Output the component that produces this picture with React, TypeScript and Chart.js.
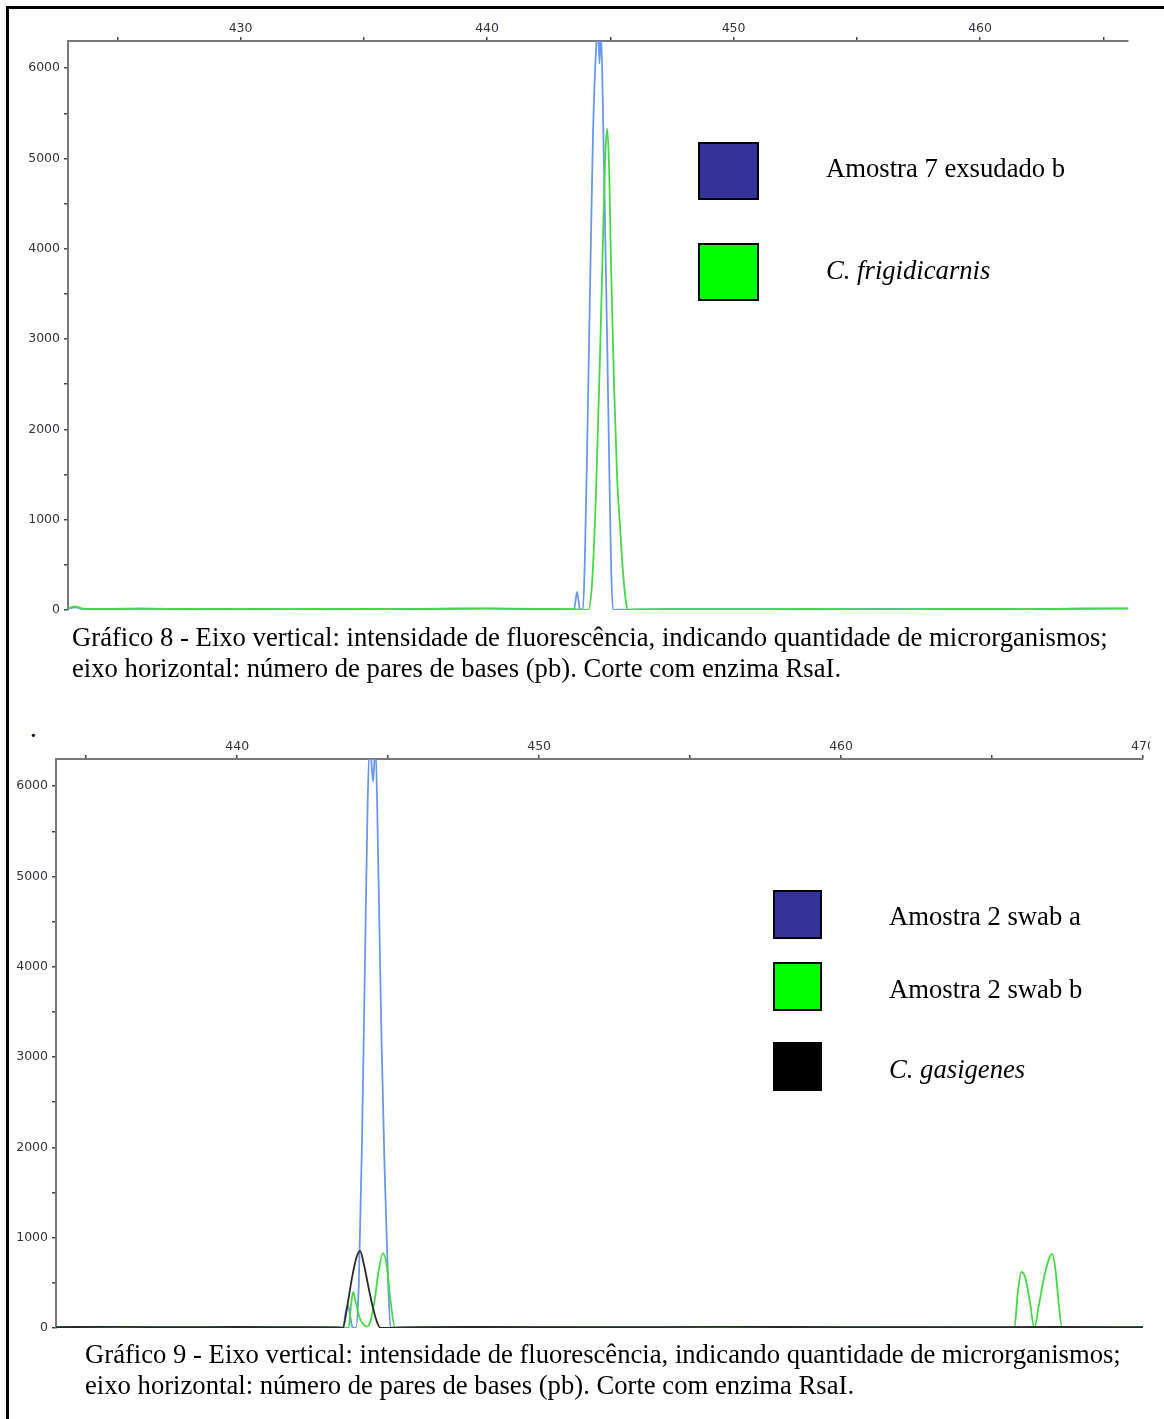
import React, { useEffect, useRef } from "react";
import { Chart, registerables } from "chart.js";

Chart.register(...registerables);

// ---------- Gráfico 8 data ----------
const G8_X_TICKS = [425, 430, 435, 440, 445, 450, 455, 460, 465];
const G8_Y_TICKS = [0, 500, 1000, 1500, 2000, 2500, 3000, 3500, 4000, 4500, 5000, 5500, 6000];

const G8_BLUE_X = [423.0, 423.3, 423.6, 424.5, 426, 428, 430, 432, 434, 436, 438, 440, 442, 443.4, 443.53, 443.65, 443.77, 443.89, 443.97, 444.06, 444.14, 444.22, 444.30, 444.42, 444.50, 444.56, 444.62, 444.71, 444.79, 444.87, 444.95, 445.03, 445.11, 445.5, 447, 450, 453, 456, 459, 462, 464, 466];
const G8_BLUE_Y = [15, 30, 12, 10, 14, 9, 12, 8, 11, 9, 13, 16, 10, 8, 10, 200, 10, 5, 600, 1800, 3000, 4200, 5300, 6200, 6500, 6050, 6400, 5400, 4200, 3000, 1700, 500, 0, 5, 8, 10, 7, 12, 9, 10, 14, 16];

const G8_GREEN_X = [423.0, 423.3, 423.6, 424.5, 426, 428, 430, 432, 434, 436, 438, 440, 442, 443.5, 444.10, 444.26, 444.42, 444.58, 444.71, 444.79, 444.87, 444.95, 445.03, 445.15, 445.27, 445.40, 445.52, 445.64, 445.72, 446, 448, 450, 453, 456, 459, 462, 464, 466];
const G8_GREEN_Y = [18, 40, 15, 12, 16, 11, 13, 10, 12, 10, 14, 17, 12, 10, 0, 300, 1300, 2800, 4200, 5000, 5330, 4900, 3800, 2500, 1500, 900, 400, 80, 0, 8, 10, 9, 12, 8, 13, 10, 15, 18];

// ---------- Gráfico 9 data ----------
const G9_X_TICKS = [435, 440, 445, 450, 455, 460, 465, 470];
const G9_Y_TICKS = [0, 500, 1000, 1500, 2000, 2500, 3000, 3500, 4000, 4500, 5000, 5500, 6000];

const G9_BLUE_X = [434, 436, 438, 440, 442, 443.3, 443.5, 443.6, 443.67, 443.75, 443.82, 443.93, 444.03, 444.13, 444.23, 444.32, 444.40, 444.50, 444.58, 444.68, 444.78, 444.88, 444.98, 445.08, 445.5, 448, 452, 456, 460, 464, 467, 470];
const G9_BLUE_Y = [8, 10, 7, 9, 8, 6, 5, 180, 250, 120, 5, 0, 500, 2000, 4000, 5800, 6450, 6050, 6450, 5000, 3200, 1800, 700, 0, 6, 9, 7, 10, 8, 9, 7, 8];

const G9_GREEN_X = [434, 436, 438, 440, 442, 443.4, 443.69, 443.77, 443.84, 443.92, 444.05, 444.18, 444.30, 444.42, 444.55, 444.68, 444.83, 444.95, 445.08, 445.23, 446, 450, 455, 460, 465.5, 465.74, 465.85, 465.97, 466.1, 466.25, 466.4, 466.55, 466.75, 466.99, 467.1, 467.2, 467.32, 468, 470];
const G9_GREEN_Y = [10, 12, 9, 11, 10, 8, 0, 250, 400, 300, 120, 40, 15, 80, 300, 620, 830, 700, 300, 0, 9, 11, 8, 10, 8, 0, 380, 620, 560, 300, 0, 250, 600, 820, 650, 300, 0, 9, 10];

const G9_BLACK_X = [434, 436, 438, 440, 442, 443.3, 443.5, 443.65, 443.8, 443.95, 444.07, 444.2, 444.35, 444.5, 444.65, 444.75, 445.5, 448, 452, 456, 460, 464, 467, 470];
const G9_BLACK_Y = [10, 12, 9, 11, 10, 8, 0, 250, 550, 780, 855, 700, 450, 220, 50, 0, 8, 11, 9, 12, 10, 9, 11, 10];

const BLUE = "#6a97ee";
const GREEN = "#45d845";
const BLACK = "#2a2a2a";

const zip = (xs: number[], ys: number[]) => xs.map((x, i) => ({ x, y: ys[i] }));

type Cfg = {
  xMin: number; xMax: number; xTicks: number[]; yTicks: number[];
  yWidth: number; xHeight: number; padRight: number; padBottom: number;
  datasets: any[];
};

function makeOptions(c: Cfg): any {
  const tickFont = { family: "'DejaVu Sans', sans-serif", size: 12.5 };
  return {
    animation: false,
    responsive: false,
    maintainAspectRatio: false,
    layout: { padding: { left: 0, top: 0, right: c.padRight, bottom: c.padBottom } },
    plugins: { legend: { display: false }, tooltip: { enabled: false } },
    elements: { point: { radius: 0 }, line: { borderWidth: 1.8, cubicInterpolationMode: "monotone" } },
    scales: {
      x: {
        type: "linear",
        position: "top",
        min: c.xMin,
        max: c.xMax,
        afterBuildTicks: (s: any) => { s.ticks = c.xTicks.map((v) => ({ value: v })); },
        afterFit: (s: any) => { s.height = c.xHeight; s.paddingLeft = 0; s.paddingRight = 0; },
        ticks: {
          autoSkip: false, maxRotation: 0, padding: 1, color: "#33333f", font: tickFont,
          callback: (v: number) => (v % 10 === 0 ? String(v) : ""),
        },
        grid: { drawOnChartArea: false, drawTicks: true, tickLength: 4, color: "#444", lineWidth: 1.5 },
        border: { color: "#777", width: 2 },
      },
      y: {
        type: "linear",
        position: "left",
        min: 0,
        max: 6300,
        afterBuildTicks: (s: any) => { s.ticks = c.yTicks.map((v) => ({ value: v })); },
        afterFit: (s: any) => { s.width = c.yWidth; s.paddingTop = 0; s.paddingBottom = 0; },
        ticks: {
          autoSkip: false, padding: 4, color: "#33333f", font: tickFont,
          callback: (v: number) => (v % 1000 === 0 ? String(v) : ""),
        },
        grid: { drawOnChartArea: false, drawTicks: true, tickLength: 4, color: "#444", lineWidth: 1.5 },
        border: { color: "#777", width: 2 },
      },
    },
  };
}

function ChartCanvas(props: { cfg: Cfg; left: number; top: number; width: number; height: number }) {
  const ref = useRef<HTMLCanvasElement | null>(null);
  useEffect(() => {
    if (!ref.current) return;
    const chart = new Chart(ref.current, {
      type: "line",
      data: { datasets: props.cfg.datasets },
      options: makeOptions(props.cfg),
    } as any);
    return () => chart.destroy();
  }, []);
  return (
    <canvas
      ref={ref}
      width={props.width}
      height={props.height}
      style={{ position: "absolute", left: props.left, top: props.top, width: props.width, height: props.height }}
    />
  );
}

const serif = "'Liberation Serif', 'Times New Roman', serif";

function Txt(props: { x: number; y: number; children: React.ReactNode; italic?: boolean; size?: number }) {
  return (
    <div
      style={{
        position: "absolute", left: props.x, top: props.y - 15.5, lineHeight: "31px",
        fontFamily: serif, fontSize: props.size ?? 26.67, fontStyle: props.italic ? "italic" : "normal",
        color: "#000", whiteSpace: "nowrap",
      }}
    >
      {props.children}
    </div>
  );
}

function Box(props: { x: number; y: number; w: number; h: number; color: string }) {
  return (
    <div
      style={{
        position: "absolute", left: props.x, top: props.y, width: props.w, height: props.h,
        background: props.color, border: "2px solid #000", boxSizing: "border-box",
      }}
    />
  );
}

export default function App() {
  const cfg8: Cfg = {
    xMin: 423, xMax: 466, xTicks: G8_X_TICKS, yTicks: G8_Y_TICKS,
    yWidth: 68, xHeight: 41, padRight: 36, padBottom: 20,
    datasets: [
      { label: "C. frigidicarnis", data: zip(G8_GREEN_X, G8_GREEN_Y), borderColor: GREEN, fill: false },
      { label: "Amostra 7 exsudado b", data: zip(G8_BLUE_X, G8_BLUE_Y), borderColor: BLUE, fill: false },
    ],
  };
  const cfg9: Cfg = {
    xMin: 434, xMax: 470, xTicks: G9_X_TICKS, yTicks: G9_Y_TICKS,
    yWidth: 56, xHeight: 39, padRight: 7, padBottom: 12,
    datasets: [
      { label: "C. gasigenes", data: zip(G9_BLACK_X, G9_BLACK_Y), borderColor: BLACK, fill: false },
      { label: "Amostra 2 swab b", data: zip(G9_GREEN_X, G9_GREEN_Y), borderColor: GREEN, fill: false },
      { label: "Amostra 2 swab a", data: zip(G9_BLUE_X, G9_BLUE_Y), borderColor: BLUE, fill: false },
    ],
  };
  return (
    <div style={{ position: "absolute", left: 0, top: 0, width: 1164, height: 1419, overflow: "hidden", background: "#fff" }}>
      <div style={{ position: "absolute", left: 6, top: 6, width: 1300, height: 1600, border: "3px solid #000" }} />
      <ChartCanvas cfg={cfg8} left={0} top={0} width={1164} height={630} />
      <Box x={698} y={142} w={61} h={58} color="#333399" />
      <Box x={698} y={243} w={61} h={58} color="#00ff00" />
      <Txt x={826} y={168}>Amostra 7 exsudado b</Txt>
      <Txt x={826} y={270} italic>C. frigidicarnis</Txt>
      <Txt x={72} y={637}>Gráfico 8 - Eixo vertical: intensidade de fluorescência, indicando quantidade de microrganismos;</Txt>
      <Txt x={72} y={668}>eixo horizontal: número de pares de bases (pb). Corte com enzima RsaI.</Txt>
      <Txt x={30} y={728}>.</Txt>

      <ChartCanvas cfg={cfg9} left={0} top={720} width={1150} height={620} />
      <Box x={773} y={890} w={49} h={49} color="#333399" />
      <Box x={773} y={962} w={49} h={49} color="#00ff00" />
      <Box x={773} y={1042} w={49} h={49} color="#000000" />
      <Txt x={889} y={916}>Amostra 2 swab a</Txt>
      <Txt x={889} y={989}>Amostra 2 swab b</Txt>
      <Txt x={889} y={1069} italic>C. gasigenes</Txt>
      <Txt x={85} y={1354}>Gráfico 9 - Eixo vertical: intensidade de fluorescência, indicando quantidade de microrganismos;</Txt>
      <Txt x={85} y={1385}>eixo horizontal: número de pares de bases (pb). Corte com enzima RsaI.</Txt>
    </div>
  );
}
